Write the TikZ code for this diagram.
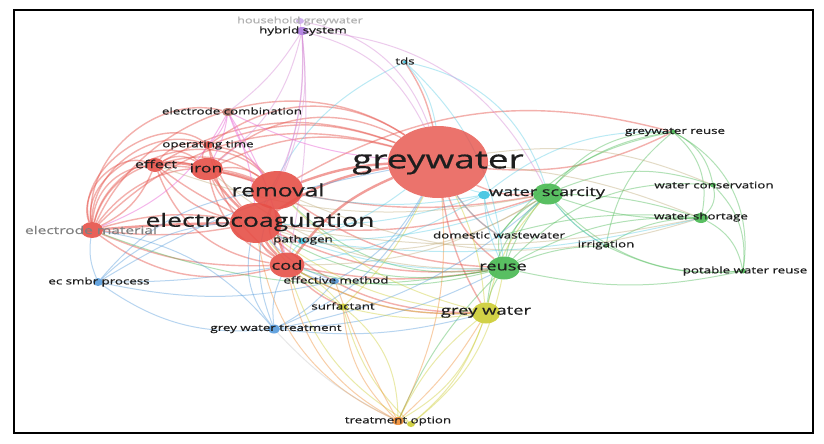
\documentclass[tikz,border=0pt]{standalone}
\usepackage{fontspec}
\setmainfont{Open Sans}
\newfontfamily\lf[FakeStretch=1.45,FakeBold=0.6]{Open Sans}
\usetikzlibrary{shapes.geometric}
\pgfdeclarelayer{back}
\pgfdeclarelayer{bg}
\pgfsetlayers{back,bg,main}
\definecolor{cR}{RGB}{230,80,72}
\definecolor{cG}{RGB}{72,185,82}
\definecolor{cB}{RGB}{85,155,220}
\definecolor{cY}{RGB}{205,205,50}
\definecolor{cP}{RGB}{175,125,225}
\definecolor{cPe}{RGB}{215,140,215}
\definecolor{cC}{RGB}{60,195,225}
\definecolor{cO}{RGB}{240,140,50}
\definecolor{cK}{RGB}{235,110,215}
\definecolor{cN}{RGB}{185,120,110}
\definecolor{cT}{RGB}{190,170,120}
\definecolor{txt}{RGB}{30,30,30}
\tikzset{
  bub/.style={ellipse, inner sep=0pt, fill=#1, fill opacity=0.9, draw=none},
  lab/.style={text=txt, inner sep=0pt, font=\lf\fontsize{9.2}{9.2}\selectfont},
  edg/.style={draw=#1, draw opacity=0.42, line width=1pt},
  redg/.style={draw=cR, draw opacity=0.45, line width=1.4pt},
  thk/.style={line width=2.4pt, draw opacity=0.55}
}
\begin{document}
\begin{tikzpicture}[x=1pt,y=-1pt]
\begin{pgfonlayer}{back}
\fill[white] (0,0) rectangle (824,444);
\end{pgfonlayer}
\useasboundingbox (0,0) rectangle (824,444);
% ---- bubbles ----
\node[bub=cR, minimum width=100, minimum height=72, fill opacity=0.8] (gw) at (438,162) {};
\node[bub=cR, minimum width=52, minimum height=38] (rem) at (277,190) {};
\node[bub=cR, minimum width=52, minimum height=40] (ec) at (256,223) {};
\node[bub=cR, minimum width=35, minimum height=25] (cod) at (287,265) {};
\node[bub=cR, minimum width=32, minimum height=22] (iron) at (207,169) {};
\node[bub=cR, minimum width=18, minimum height=14] (eff) at (155,165) {};
\node[bub=cR, minimum width=22, minimum height=16] (em) at (92,230) {};
\node[bub=cR, minimum width=10, minimum height=8] (ot) at (208,145) {};
\node[bub=cN, minimum width=12, minimum height=8] (ecomb) at (228,112) {};
\node[bub=cG, minimum width=30, minimum height=21] (ws) at (548,194) {};
\node[bub=cG, minimum width=32, minimum height=23] (reuse) at (504,268) {};
\node[bub=cY, minimum width=28, minimum height=21] (gwater) at (486,313) {};
\node[bub=cG, minimum width=14, minimum height=10] (wsh) at (701,218) {};
\node[bub=cG, minimum width=6, minimum height=5] (gwr) at (673,132) {};
\node[bub=cG, minimum width=6, minimum height=5] (wc) at (713,185) {};
\node[bub=cG, minimum width=6, minimum height=5] (pwr) at (743,271) {};
\node[bub=cG, minimum width=4, minimum height=3] (irr) at (606,246) {};
\node[bub=cC, minimum width=4, minimum height=3] (dw) at (499,236) {};
\node[bub=cC, minimum width=12, minimum height=8] (cn) at (484,195) {};
\node[bub=cC, minimum width=8, minimum height=6] (path) at (302,241) {};
\node[bub=cC, minimum width=4, minimum height=3] (tds) at (405,62) {};
\node[bub=cB, minimum width=12, minimum height=9] (gwt) at (274,329) {};
\node[bub=cB, minimum width=10, minimum height=8] (ecsmbr) at (98,282) {};
\node[bub=cB, minimum width=8, minimum height=6] (effm) at (335,281) {};
\node[bub=cY, minimum width=10, minimum height=7] (surf) at (343,307) {};
\node[bub=cO, minimum width=12, minimum height=8] (to) at (398,421) {};
\node[bub=cY, minimum width=8, minimum height=6] (yto) at (411,424) {};
\node[bub=cP, minimum width=12, minimum height=8] (hyb) at (302,31) {};
\node[bub=cP, minimum width=8, minimum height=6, fill opacity=0.6] (hh) at (300,21) {};
% ---- edges ----
\begin{pgfonlayer}{bg}
\foreach \a/\b/\k in {em/eff/40, em/eff/65, em/iron/45, em/iron/70, em/ot/55, em/ot/72, em/rem/38, em/rem/62, em/gw/30, em/gw/50,
  em/ec/-8, em/ec/12, em/cod/-25, em/cod/-12, em/ecomb/55,
  eff/iron/30, eff/rem/25, eff/rem/8, eff/ec/-20, eff/ec/-5, eff/cod/-30, eff/gw/25, eff/ot/30, eff/em/20,
  iron/rem/20, iron/ec/-15, iron/cod/-25, iron/gw/20, iron/gw/35, iron/ot/25,
  ot/rem/20, ot/ec/-10, ot/cod/-20, ot/gw/20, ot/gw/35,
  rem/ec/-20, rem/cod/-25, rem/ws/-10, rem/reuse/-15, rem/gwr/22,
  ec/cod/-20, ec/ws/-12, ec/reuse/-15, ec/gwater/-20, ec/path/10,
  cod/reuse/-10, cod/gwater/-15, cod/surf/-10,
  gw/ws/-15, gw/reuse/-15, gw/gwr/-15, gw/tds/-10, gw/gwater/-10, gw/dw/-10}
  \draw[redg] (\a) to[bend left=\k] (\b);
\foreach \a/\b/\k in {rem/gw/8, ec/gw/12, cod/gw/15, em/ec/2, rem/ec/10, iron/rem/5, iron/ec/-5, ec/cod/-8, rem/cod/-10, eff/iron/10}
  \draw[redg, thk] (\a) to[bend left=\k] (\b);
\foreach \a/\b/\k in {ws/reuse/-20, ws/gwr/25, ws/wc/20, ws/wsh/-10, ws/pwr/-25, ws/irr/-10, ws/dw/-10, ws/gwater/-20,
  reuse/gwr/30, reuse/wc/25, reuse/wsh/15, reuse/pwr/-12, reuse/irr/10, reuse/dw/10, reuse/gwater/-10, reuse/to/-10,
  reuse/ec/20, reuse/rem/25, reuse/cod/15, reuse/em/15,
  gwr/wc/25, gwr/wsh/30, gwr/pwr/35, wc/wsh/30, wc/pwr/25, wsh/pwr/25, ws/wsh/8,
  irr/wsh/15, irr/gwr/20, dw/gwr/20, dw/wsh/10, irr/pwr/-15}
  \draw[edg=cG] (\a) to[bend left=\k] (\b);
\foreach \a/\b/\k in {ec/ws/-25, rem/wsh/-20, cod/ws/-15, iron/reuse/-20, eff/ws/-15, gw/wc/15, gw/wsh/8, ec/wsh/-10}
  \draw[edg=cT] (\a) to[bend left=\k] (\b);
\foreach \a/\b/\k in {ecsmbr/em/15, ecsmbr/ec/20, ecsmbr/rem/20, ecsmbr/cod/-5, ecsmbr/gwt/-20, ecsmbr/effm/-12, ecsmbr/gw/10,
  gwt/cod/15, gwt/ec/25, gwt/rem/20, gwt/effm/-10, gwt/gw/-20, gwt/reuse/-12, gwt/gwater/-10, gwt/ws/-15, gwt/em/-20,
  effm/gw/-15, effm/cod/10, effm/ec/15}
  \draw[edg=cB] (\a) to[bend left=\k] (\b);
\foreach \a/\b/\k in {gwater/surf/10, gwater/to/20, gwater/to/-12, gwater/cod/15, gwater/ec/15, gwater/gw/-10, gwater/rem/15, gwater/ws/15,
  surf/cod/-10, surf/to/25, surf/gw/-10, surf/ec/10, yto/gwater/-15, yto/reuse/-20, yto/cod/20, yto/surf/15}
  \draw[edg=cY] (\a) to[bend left=\k] (\b);
\foreach \a/\b/\k in {to/cod/25, to/ec/28, to/gw/-15, to/gwater/-8, to/effm/5, to/surf/20}
  \draw[edg=cO] (\a) to[bend left=\k] (\b);
\draw[edg=black!30, draw opacity=0.3] (gwt) to[bend left=-10] (to);
\foreach \a/\b/\k in {tds/gw/15, tds/ws/30, tds/ec/-20, tds/reuse/20,
  cn/gw/5, cn/ws/10, cn/reuse/-10, cn/ec/10, cn/dw/-10, cn/rem/10, cn/cod/10, cn/gwr/20,
  path/gw/-10, path/ec/10, path/cod/-10, path/reuse/-10, path/ws/-10, path/wsh/-10, dw/gw/10, irr/ws/10}
  \draw[edg=cC, draw opacity=0.35] (\a) to[bend left=\k] (\b);
\foreach \a/\b/\k in {hyb/gw/25, hyb/rem/10, hyb/ec/15, hyb/ecomb/10, hyb/iron/20, hyb/cod/8, hyb/ws/30, hh/gw/30, hh/rem/15}
  \draw[edg=cPe, draw opacity=0.45] (\a) to[bend left=\k] (\b);
\foreach \a/\b/\k in {ecomb/gw/-10, ecomb/rem/-10, ecomb/ec/10, ecomb/iron/10, ecomb/ot/15, ecomb/cod/10, ecomb/em/20}
  \draw[edg=cK, draw opacity=0.5] (\a) to[bend left=\k] (\b);
\end{pgfonlayer}
% ---- labels ----
\node[lab, font=\lf\fontsize{25.5}{25.5}\selectfont] (gw-l) at (438,163) {greywater};
\node[lab, font=\lf\fontsize{17}{17}\selectfont] (rem-l) at (278,190) {removal};
\node[lab, font=\lf\fontsize{18.3}{18.3}\selectfont] (ec-l) at (260,222) {electrocoagulation};
\node[lab, font=\lf\fontsize{12.6}{12.6}\selectfont] (cod-l) at (287,265) {cod};
\node[lab, font=\lf\fontsize{12.1}{12.1}\selectfont] (iron-l) at (206,168) {iron};
\node[lab, font=\lf\fontsize{11}{11}\selectfont] (eff-l) at (156,164) {effect};
\node[lab, text=black!50, font=\lf\fontsize{10.7}{10.7}\selectfont] (em-l) at (91,230) {electrode material};
\node[lab] (ot-l) at (208,145) {operating time};
\node[lab] (ecomb-l) at (232,111) {electrode combination};
\node[lab, font=\lf\fontsize{12.5}{12.5}\selectfont] (ws-l) at (547,193) {water scarcity};
\node[lab, font=\lf\fontsize{12.6}{12.6}\selectfont] (reuse-l) at (503,267) {reuse};
\node[lab, font=\lf\fontsize{12.7}{12.7}\selectfont] (gwater-l) at (486,312) {grey water};
\node[lab] (gwr-l) at (675,132) {greywater reuse};
\node[lab] (wc-l) at (714,185) {water conservation};
\node[lab] (wsh-l) at (701,217) {water shortage};
\node[lab] (dw-l) at (499,235) {domestic wastewater};
\node[lab] (irr-l) at (606,245) {irrigation};
\node[lab] (pwr-l) at (745,271) {potable water reuse};
\node[lab] (path-l) at (303,240) {pathogen};
\node[lab] (tds-l) at (405,61) {tds};
\node[lab] (ecsmbr-l) at (99,282) {ec smbr process};
\node[lab] (effm-l) at (336,280) {effective method};
\node[lab] (surf-l) at (343,306) {surfactant};
\node[lab] (gwt-l) at (276,329) {grey water treatment};
\node[lab] (to-l) at (398,421) {treatment option};
\node[lab] (hyb-l) at (303,31) {hybrid system};
\node[lab, text=black!30, font=\lf\fontsize{8.8}{8.8}\selectfont] (hh-l) at (300,21) {household greywater};
% ---- frame ----
\draw[line width=2.5pt] (14,10) rectangle (813,433);
\end{tikzpicture}
\end{document}
